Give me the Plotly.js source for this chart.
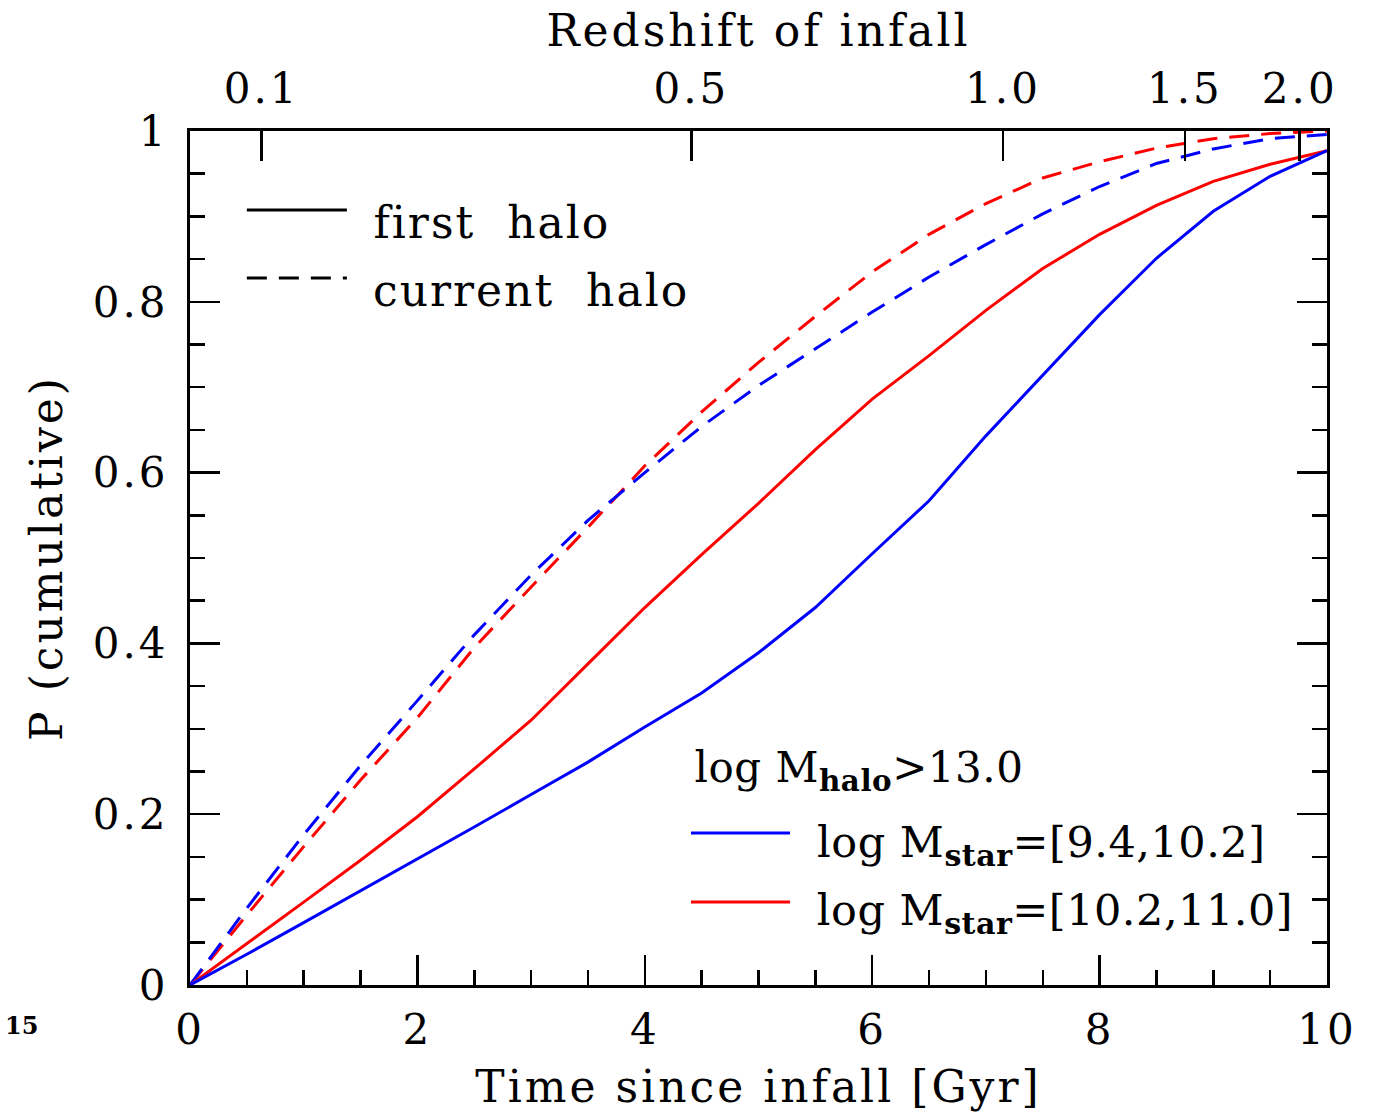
<!DOCTYPE html>
<html>
<head>
<meta charset="utf-8">
<script src="https://cdn.plot.ly/plotly-3.0.1.min.js"></script>
<style>
html, body { margin: 0; padding: 0; background: #fff; }
#chart { width: 1375px; height: 1118px; }
#chart .xtick text, #chart .ytick text, #chart .x2tick text,
#chart .xtitle, #chart .ytitle, #chart .x2title { letter-spacing: 3px; }
#chart g.annotation[data-index="0"] text,
#chart g.annotation[data-index="1"] text { letter-spacing: 2px; }
#chart g.annotation[data-index="2"] text,
#chart g.annotation[data-index="3"] text,
#chart g.annotation[data-index="4"] text { letter-spacing: 0.5px; }
</style>
</head>
<body>
<div id="chart"></div>
<script>
// Time since infall [Gyr]
const time = [0, 0.5, 1, 1.5, 2, 2.5, 3, 3.5, 4, 4.5, 5, 5.5, 6, 6.5, 7, 7.5, 8, 8.5, 9, 9.5, 10];
// first halo, log Mstar = [9.4,10.2] (blue solid)
const firstLow = [0, 0.036, 0.073, 0.110, 0.147, 0.185, 0.223, 0.261, 0.302, 0.342, 0.389, 0.442, 0.505, 0.567, 0.643, 0.714, 0.785, 0.851, 0.906, 0.947, 0.977];
// first halo, log Mstar = [10.2,11.0] (red solid)
const firstHigh = [0, 0.048, 0.097, 0.146, 0.197, 0.253, 0.310, 0.376, 0.442, 0.504, 0.564, 0.627, 0.686, 0.737, 0.790, 0.839, 0.879, 0.913, 0.941, 0.961, 0.977];
// current halo, log Mstar = [9.4,10.2] (blue dashed)
const currentLow = [0, 0.090, 0.176, 0.257, 0.333, 0.410, 0.480, 0.544, 0.600, 0.654, 0.702, 0.745, 0.788, 0.829, 0.867, 0.903, 0.935, 0.962, 0.979, 0.991, 0.996];
// current halo, log Mstar = [10.2,11.0] (red dashed)
const currentHigh = [0, 0.082, 0.162, 0.240, 0.313, 0.395, 0.466, 0.536, 0.608, 0.671, 0.729, 0.783, 0.835, 0.879, 0.915, 0.945, 0.964, 0.980, 0.991, 0.997, 1.000];
// top axis: redshift of infall
const redshiftLabels = ['0.1', '0.5', '1.0', '1.5', '2.0'];
const redshiftTimes = [0.63, 4.41, 7.15, 8.75, 9.76];

const blue = '#0000ff';
const red = '#ff0000';
const FONT = 'DejaVu Serif, serif';
const dashPat = '20px,12px';

const traces = [
  {x: time, y: currentHigh, mode: 'lines', line: {color: red, width: 3, dash: dashPat}, showlegend: false, hoverinfo: 'skip'},
  {x: time, y: currentLow, mode: 'lines', line: {color: blue, width: 3, dash: dashPat}, showlegend: false, hoverinfo: 'skip'},
  {x: time, y: firstHigh, mode: 'lines', line: {color: red, width: 3}, showlegend: false, hoverinfo: 'skip'},
  {x: time, y: firstLow, mode: 'lines', line: {color: blue, width: 3}, showlegend: false, hoverinfo: 'skip'},
  {x: [time[0], time[time.length - 1]], y: [null, null], xaxis: 'x2', yaxis: 'y', mode: 'none', showlegend: false, hoverinfo: 'skip'}
];

const layout = {
  width: 1375, height: 1118,
  margin: {l: 190, r: 48, t: 131, b: 133, pad: 0},
  paper_bgcolor: '#fff', plot_bgcolor: '#fff',
  font: {family: FONT, color: '#000', size: 42},
  showlegend: false,
  xaxis: {
    range: [0, 10], dtick: 2, tick0: 0,
    showgrid: false, zeroline: false,
    showline: true, linecolor: '#000', linewidth: 3,
    ticks: 'inside', ticklen: 30, tickwidth: 2.5, tickcolor: '#000',
    minor: {dtick: 0.5, ticks: 'inside', ticklen: 15, tickwidth: 2.5, tickcolor: '#000', showgrid: false},
    tickfont: {family: FONT, size: 42},
    ticklabelstandoff: 6,
    title: {text: 'Time since infall [Gyr]', font: {family: FONT, size: 44}, standoff: 18}
  },
  xaxis2: {
    overlaying: 'x', side: 'top', anchor: 'y',
    range: [0, 10],
    tickmode: 'array', tickvals: redshiftTimes, ticktext: redshiftLabels,
    showgrid: false, zeroline: false,
    showline: true, linecolor: '#000', linewidth: 3,
    ticks: 'inside', ticklen: 30, tickwidth: 2.5, tickcolor: '#000',
    tickfont: {family: FONT, size: 42},
    ticklabelstandoff: 8,
    title: {text: 'Redshift of infall', font: {family: FONT, size: 44}, standoff: 4}
  },
  yaxis: {
    range: [0, 1], dtick: 0.2, tick0: 0,
    showgrid: false, zeroline: false,
    showline: true, linecolor: '#000', linewidth: 3, mirror: 'ticks',
    ticks: 'inside', ticklen: 30, tickwidth: 2.5, tickcolor: '#000',
    minor: {dtick: 0.05, ticks: 'inside', ticklen: 15, tickwidth: 2.5, tickcolor: '#000', showgrid: false},
    tickfont: {family: FONT, size: 42},
    ticklabelstandoff: 10,
    title: {text: 'P (cumulative)', font: {family: FONT, size: 44}, standoff: 26}
  },
  shapes: [
    {type: 'line', xref: 'paper', yref: 'paper', x0: 0.050, x1: 0.138, y0: 0.9075, y1: 0.9075, line: {color: '#000', width: 3}},
    {type: 'line', xref: 'paper', yref: 'paper', x0: 0.050, x1: 0.138, y0: 0.828, y1: 0.828, line: {color: '#000', width: 3, dash: dashPat}},
    {type: 'line', xref: 'paper', yref: 'paper', x0: 0.4406, x1: 0.5277, y0: 0.178, y1: 0.178, line: {color: blue, width: 3}},
    {type: 'line', xref: 'paper', yref: 'paper', x0: 0.4406, x1: 0.5277, y0: 0.0972, y1: 0.0972, line: {color: red, width: 3}}
  ],
  annotations: [
    {xref: 'paper', yref: 'paper', x: 0.160, y: 0.8934, xanchor: 'left', yanchor: 'middle', xshift: 11, showarrow: false, text: 'first  halo', font: {family: FONT, size: 44}},
    {xref: 'paper', yref: 'paper', x: 0.160, y: 0.8138, xanchor: 'left', yanchor: 'middle', xshift: 12, showarrow: false, text: 'current  halo', font: {family: FONT, size: 44}},
    {xref: 'paper', yref: 'paper', x: 0.4415, y: 0.251, xanchor: 'left', yanchor: 'middle', xshift: 4, showarrow: false, text: 'log M<sub><b>halo</b></sub>>13.0', font: {family: FONT, size: 42}},
    {xref: 'paper', yref: 'paper', x: 0.5497, y: 0.164, xanchor: 'left', yanchor: 'middle', xshift: 5, showarrow: false, text: 'log M<sub><b>star</b></sub>=[9.4,10.2]', font: {family: FONT, size: 43}},
    {xref: 'paper', yref: 'paper', x: 0.5497, y: 0.084, xanchor: 'left', yanchor: 'middle', xshift: 5, showarrow: false, text: 'log M<sub><b>star</b></sub>=[10.2,11.0]', font: {family: FONT, size: 43}},
    {xref: 'paper', yref: 'paper', x: -0.1645, y: -0.047, xanchor: 'left', yanchor: 'middle', showarrow: false, text: '<b>15</b>', font: {family: FONT, size: 24}}
  ]
};

Plotly.newPlot('chart', traces, layout, {staticPlot: true, displayModeBar: false});
</script>
</body>
</html>
